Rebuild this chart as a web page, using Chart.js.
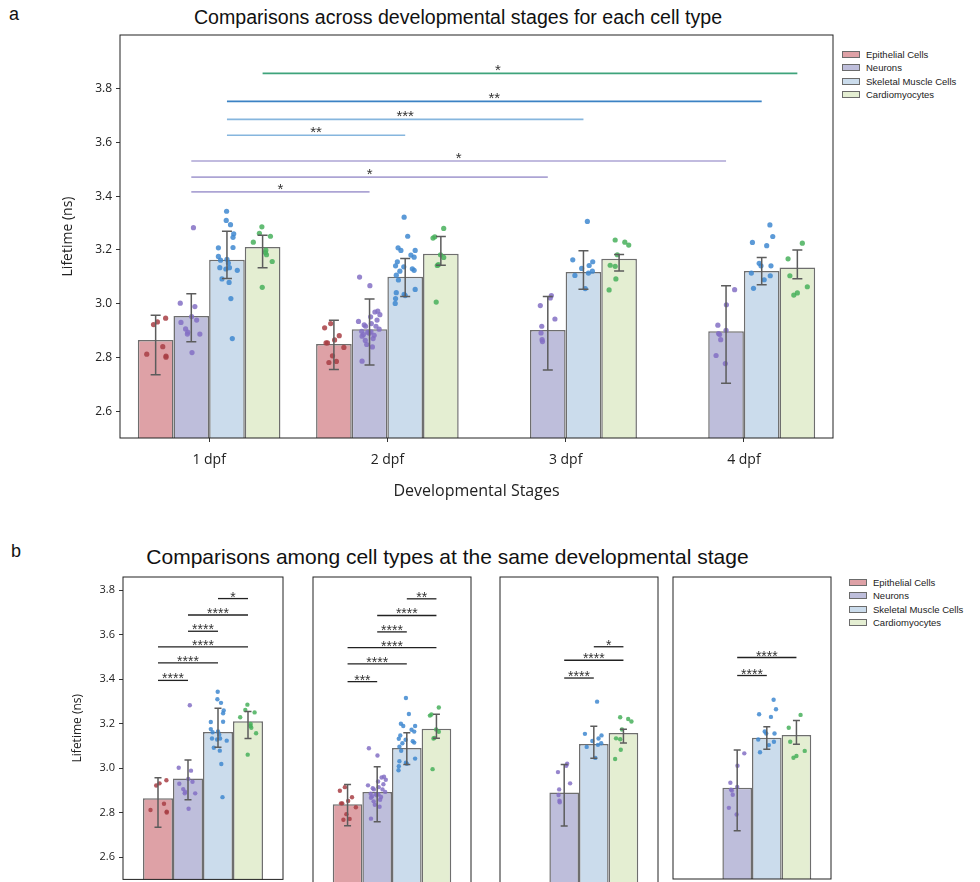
<!DOCTYPE html>
<html>
<head>
<meta charset="utf-8">
<script src="https://cdn.jsdelivr.net/npm/chart.js@4.4.1/dist/chart.umd.min.js"></script>
<style>
  html, body { margin: 0; padding: 0; background: #fff; overflow: hidden; }
  #page { position: relative; width: 980px; height: 882px; font-family: "Liberation Sans", Arial, sans-serif; color: #111; }
  .abs { position: absolute; }
  canvas { position: absolute; }
  .letter { font-size: 18px; }
  .title { text-align: center; white-space: nowrap; }
  .legend { font-size: 9.5px; color: #222; }
  .legend .row { display: flex; align-items: center; height: 13.3px; }
  .legend .sw { width: 16px; height: 5px; border: 1px solid #6b6b6b; margin-right: 6px; }
</style>
</head>
<body>
<div id="page">
  <div class="abs letter" style="left:9px; top:4px;">a</div>
  <div class="abs title" style="left:0; width:916px; top:6px; font-size:19.6px;">Comparisons across developmental stages for each cell type</div>
  <canvas id="chartA" width="840" height="520" style="left:0; top:0;"></canvas>
  <div id="legendA" class="abs legend" style="left:842px; top:48px;"></div>

  <div class="abs letter" style="left:11px; top:541px;">b</div>
  <div class="abs title" style="left:0; width:895px; top:545px; font-size:21px;">Comparisons among cell types at the same developmental stage</div>
  <canvas id="chartB1" width="240" height="330" style="left:50px; top:560px;"></canvas>
  <canvas id="chartB2" width="166" height="330" style="left:309px; top:560px;"></canvas>
  <canvas id="chartB3" width="166" height="330" style="left:496px; top:560px;"></canvas>
  <canvas id="chartB4" width="166" height="330" style="left:669px; top:560px;"></canvas>
  <div id="legendB" class="abs legend" style="left:849px; top:576px;"></div>
</div>

<script>
const stages = ['1 dpf', '2 dpf', '3 dpf', '4 dpf'];
const cellTypes = ['Epithelial Cells', 'Neurons', 'Skeletal Muscle Cells', 'Cardiomyocytes'];
const yTicks = [2.6, 2.8, 3.0, 3.2, 3.4, 3.6, 3.8];

// mean lifetime (ns) per stage, null = not measured
const meanEpithelial = [2.865, 2.850, null, null];
const meanNeurons = [2.954, 2.905, 2.902, 2.897];
const meanSkeletal = [3.163, 3.100, 3.118, 3.122];
const meanCardio = [3.211, 3.186, 3.167, 3.135];

// 95% confidence interval [low, high]
const ciEpithelial = [[2.735, 2.957], [2.755, 2.938], null, null];
const ciNeurons = [[2.858, 3.037], [2.772, 3.017], [2.753, 3.027], [2.704, 3.067]];
const ciSkeletal = [[3.094, 3.270], [3.027, 3.168], [3.054, 3.197], [3.070, 3.172]];
const ciCardio = [[3.134, 3.255], [3.143, 3.250], [3.122, 3.183], [3.093, 3.200]];

// single cell measurements, with strip jitter as a fraction of bar width
const epithelialValues = [
  [2.922, 2.932, 2.946, 2.812, 2.840, 2.805, 2.801],
  [2.910, 2.926, 2.881, 2.865, 2.854, 2.854, 2.837, 2.806, 2.781, 2.785],
  [], []
];
const epithelialJitter = [
  [-0.06, 0.05, 0.28, -0.25, 0.20, 0.29, 0.29],
  [-0.26, -0.09, 0.15, 0.02, -0.22, -0.18, 0.28, -0.04, -0.14, 0.07],
  [], []
];
const neuronValues = [
  [3.002, 3.283, 2.989, 2.930, 2.952, 2.939, 2.906, 2.894, 2.887, 2.887, 2.818],
  [3.099, 3.067, 2.969, 2.972, 2.959, 2.951, 2.939, 2.934, 2.926, 2.921, 2.916, 2.905, 2.897,
   2.894, 2.895, 2.882, 2.879, 2.870, 2.863, 2.848, 2.839, 2.786, 2.885, 2.890, 2.916],
  [3.030, 3.021, 2.993, 2.943, 2.916, 2.891, 2.866, 2.859],
  [3.052, 2.996, 2.920, 2.889, 2.885, 2.866, 2.901, 2.807, 2.777]
];
const neuronJitter = [
  [-0.31, 0.06, 0.10, -0.29, 0.01, 0.15, -0.16, -0.10, -0.11, 0.24, 0.02],
  [-0.28, 0.01, 0.15, 0.23, 0.29, 0.03, 0.21, -0.31, 0.05, -0.15, -0.11, 0.27, -0.22,
   -0.05, 0.04, 0.13, -0.21, 0.10, -0.12, -0.08, 0.08, -0.21, -0.17, -0.01, 0.18],
  [0.10, 0.07, -0.21, 0.20, -0.17, -0.19, -0.16, -0.15],
  [0.24, 0.01, -0.23, -0.21, -0.18, -0.15, 0.00, -0.28, -0.02]
];
const skeletalValues = [
  [3.344, 3.310, 3.294, 3.260, 3.247, 3.208, 3.209, 3.176, 3.162, 3.165, 3.151, 3.134, 3.129,
   3.134, 3.124, 3.092, 3.079, 3.019, 2.870],
  [3.322, 3.251, 3.208, 3.198, 3.198, 3.181, 3.173, 3.156, 3.141, 3.137, 3.130, 3.121, 3.124,
   3.106, 3.088, 3.041, 3.035, 3.030, 3.053, 3.019, 3.001],
  [3.306, 3.163, 3.156, 3.142, 3.131, 3.121, 3.114, 3.105, 3.056],
  [3.293, 3.250, 3.228, 3.216, 3.150, 3.141, 3.141, 3.114, 3.104, 3.089, 3.057]
];
const skeletalJitter = [
  [-0.01, -0.02, 0.10, 0.19, 0.17, -0.24, 0.17, -0.24, -0.18, 0.00, 0.04, -0.20, -0.03,
   0.07, 0.29, -0.14, 0.06, 0.11, 0.15],
  [-0.03, 0.07, -0.20, -0.12, 0.28, 0.16, 0.25, -0.22, -0.27, -0.04, 0.20, -0.15, 0.25,
   -0.25, -0.19, -0.25, -0.03, 0.00, 0.28, -0.27, -0.28],
  [0.11, -0.30, 0.26, 0.16, -0.05, 0.25, 0.14, -0.24, 0.05],
  [0.23, 0.31, -0.26, 0.14, -0.07, -0.02, 0.26, -0.29, 0.24, 0.07, -0.23]
];
const cardioValues = [
  [3.286, 3.262, 3.251, 3.229, 3.199, 3.182, 3.157, 3.061, 3.190],
  [3.280, 3.249, 3.244, 3.182, 3.172, 3.145, 3.142, 3.006],
  [3.237, 3.229, 3.218, 3.182, 3.143, 3.139, 3.092, 3.051],
  [3.225, 3.167, 3.104, 3.063, 3.040, 3.032]
];
const cardioJitter = [
  [-0.02, -0.09, 0.22, -0.26, 0.09, 0.11, 0.27, -0.01, 0.08],
  [0.08, -0.17, -0.22, -0.01, 0.08, -0.07, -0.10, -0.13],
  [-0.11, 0.16, 0.27, -0.05, -0.25, -0.11, -0.09, -0.28],
  [0.14, -0.26, -0.21, 0.28, 0.00, -0.10]
];

// across-stage tests: [cell type, from stage, to stage, bracket height, stars, star position]
const stageTests = [
  [3, 0, 3, 3.857, '*', 1.62],
  [2, 0, 3, 3.753, '**'],
  [2, 0, 2, 3.686, '***'],
  [2, 0, 1, 3.627, '**'],
  [1, 0, 3, 3.531, '*'],
  [1, 0, 2, 3.471, '*'],
  [1, 0, 1, 3.416, '*']
];
// within-stage tests: [cell type A, cell type B, bracket height, stars]
const cellTests1 = [[2, 3, 3.763, '*'], [1, 3, 3.689, '****'], [1, 2, 3.616, '****'],
                    [0, 3, 3.546, '****'], [0, 2, 3.474, '****'], [0, 1, 3.395, '****']];
const cellTests2 = [[2, 3, 3.763, '**'], [1, 3, 3.689, '****'], [1, 2, 3.616, '****'],
                    [0, 3, 3.546, '****'], [0, 2, 3.474, '****'], [0, 1, 3.395, '***']];
const cellTests3 = [[2, 3, 3.550, '*'], [1, 3, 3.490, '****'], [1, 2, 3.411, '****']];
const cellTests4 = [[1, 3, 3.483, '****'], [1, 2, 3.402, '****']];

const barColors = ['#dea1a6', '#bebedb', '#cbdcec', '#e4eed2'];
const dotColors = ['rgba(168,62,68,0.85)', 'rgba(132,112,196,0.85)', 'rgba(64,136,208,0.85)', 'rgba(72,176,92,0.85)'];
const stageLineColors = ['#3ea37b', '#3b82c4', '#86b6de', '#86b6de', '#aca4d4', '#aca4d4', '#aca4d4'];

const cells = [
  { mean: meanEpithelial, ci: ciEpithelial, values: epithelialValues, jitter: epithelialJitter },
  { mean: meanNeurons, ci: ciNeurons, values: neuronValues, jitter: neuronJitter },
  { mean: meanSkeletal, ci: ciSkeletal, values: skeletalValues, jitter: skeletalJitter },
  { mean: meanCardio, ci: ciCardio, values: cardioValues, jitter: cardioJitter }
];

// legends
['legendA', 'legendB'].forEach(id => {
  const box = document.getElementById(id);
  cellTypes.forEach((name, t) => {
    const row = document.createElement('div');
    row.className = 'row';
    row.innerHTML = `<span class="sw" style="background:${barColors[t]}"></span><span>${name}</span>`;
    box.appendChild(row);
  });
});

// bars + points for the given stages; bars sit at x = stage (or 0 in a single-stage panel)
function buildDatasets(stageList, groupWidth, single, dotRadius) {
  const barW = groupWidth / cellTypes.length;
  const bars = cells.map((c, t) => ({
    type: 'bar',
    label: cellTypes[t],
    data: stageList.map(s => ({ x: single ? 0 : s, y: c.mean[s] })),
    backgroundColor: barColors[t],
    borderColor: '#6e6e6e',
    borderWidth: 1.5,
    categoryPercentage: groupWidth,
    barPercentage: 1,
    order: 2
  }));
  const dots = cells.map((c, t) => {
    const pts = [];
    stageList.forEach(s => {
      const centre = (single ? 0 : s) + (t - 1.5) * barW;
      c.values[s].forEach((v, k) => pts.push({ x: centre + c.jitter[s][k] * barW, y: v }));
    });
    return {
      type: 'scatter',
      label: cellTypes[t] + ' cells',
      data: pts,
      backgroundColor: dotColors[t],
      borderWidth: 0,
      pointRadius: dotRadius,
      order: 1
    };
  });
  return bars.concat(dots);
}

// frame, error bars and significance brackets
function decorPlugin(spec) {
  return {
    id: 'decor',
    afterDatasetsDraw(chart) {
      const ctx = chart.ctx;
      const ys = chart.scales.y;
      const area = chart.chartArea;
      ctx.save();
      // error bars
      spec.stageList.forEach((s, i) => {
        cells.forEach((c, t) => {
          const ci = c.ci[s];
          if (!ci) return;
          const bx = chart.getDatasetMeta(t).data[i].x;
          const lo = ys.getPixelForValue(ci[0]);
          const hi = ys.getPixelForValue(ci[1]);
          ctx.strokeStyle = '#5c5c5c';
          ctx.lineWidth = 1.5;
          ctx.beginPath();
          ctx.moveTo(bx, lo); ctx.lineTo(bx, hi);
          ctx.moveTo(bx - spec.cap, lo); ctx.lineTo(bx + spec.cap, lo);
          ctx.moveTo(bx - spec.cap, hi); ctx.lineTo(bx + spec.cap, hi);
          ctx.stroke();
        });
      });
      // frame
      ctx.strokeStyle = '#222';
      ctx.lineWidth = 1;
      ctx.strokeRect(area.left, area.top, area.right - area.left, area.bottom - area.top);
      // brackets
      ctx.textAlign = 'center';
      ctx.textBaseline = 'alphabetic';
      ctx.font = spec.starFont;
      spec.brackets.forEach(b => {
        const x1 = b.x1(chart), x2 = b.x2(chart);
        const y = ys.getPixelForValue(b.h);
        ctx.strokeStyle = b.color;
        ctx.lineWidth = spec.lineWidth;
        ctx.beginPath();
        ctx.moveTo(x1, y); ctx.lineTo(x2, y);
        ctx.stroke();
        ctx.fillStyle = '#333';
        const tx = b.labelX !== undefined ? chart.scales.x.getPixelForValue(b.labelX) : (x1 + x2) / 2;
        ctx.fillText(b.label, tx, y + spec.starShift);
      });
      ctx.restore();
    }
  };
}

const barX = (t, i) => chart => chart.getDatasetMeta(t).data[i].x;

// panel a
const stageList = [0, 1, 2, 3];
new Chart(document.getElementById('chartA'), {
  type: 'bar',
  data: { datasets: buildDatasets(stageList, 0.8, false, 2.6) },
  options: {
    responsive: false,
    animation: false,
    layout: { padding: { top: 35, right: 7, left: 0, bottom: 0 } },
    plugins: { legend: { display: false }, tooltip: { enabled: false } },
    scales: {
      x: {
        type: 'linear', min: -0.5, max: 3.5, offset: false,
        afterBuildTicks: s => { s.ticks = stageList.map(v => ({ value: v })); },
        afterFit: s => { s.height = 82; },
        ticks: { callback: (v, i) => stages[i], font: { family: 'Open Sans', size: 14 }, color: '#222', padding: 10, autoSkip: false, maxRotation: 0 },
        grid: { drawOnChartArea: false, drawTicks: true, tickLength: 4, tickColor: '#333', offset: false },
        border: { display: false },
        title: { display: true, text: 'Developmental Stages', font: { family: 'Open Sans', size: 16 }, color: '#222', padding: { top: 0, bottom: 19 } }
      },
      y: {
        min: 2.5, max: 4.0,
        afterBuildTicks: s => { s.ticks = yTicks.map(v => ({ value: v })); },
        afterFit: s => { s.width = 120; },
        ticks: { callback: v => v.toFixed(1), font: { family: 'Open Sans', size: 12 }, color: '#222', padding: 4 },
        grid: { drawOnChartArea: false, drawTicks: true, tickLength: 4, tickColor: '#333' },
        border: { display: false },
        title: { display: true, text: 'Lifetime (ns)', font: { family: 'Open Sans', size: 14 }, color: '#222', padding: { top: 60, bottom: 0 } }
      }
    }
  },
  plugins: [decorPlugin({
    stageList: stageList,
    cap: 5,
    lineWidth: 1.6,
    starFont: '15px "Liberation Sans"',
    starShift: 2,
    brackets: stageTests.map((b, k) => ({
      x1: barX(b[0], b[1]), x2: barX(b[0], b[2]), h: b[3], label: b[4], labelX: b[5], color: stageLineColors[k]
    }))
  })]
});

// panel b, one chart per stage
function stagePanel(id, s, tests, showY, yMin, yMax, padBottom, padLeft, padRight) {
  const yAxis = {
    min: yMin, max: yMax, display: showY,
    afterBuildTicks: sc => { sc.ticks = yTicks.map(v => ({ value: v })); },
    ticks: { callback: v => v.toFixed(1), font: { family: 'Open Sans', size: 11 }, color: '#222', padding: 4 },
    grid: { drawOnChartArea: false, drawTicks: true, tickLength: 4, tickColor: '#333' },
    border: { display: false },
    title: { display: true, text: 'Lifetime (ns)', font: { family: 'Open Sans', size: 12 }, color: '#222', padding: { top: 20, bottom: 0 } }
  };
  if (showY) yAxis.afterFit = sc => { sc.width = 73; };
  new Chart(document.getElementById(id), {
    type: 'bar',
    data: { datasets: buildDatasets([s], 0.75, true, 2.2) },
    options: {
      responsive: false,
      animation: false,
      layout: { padding: { top: 17, right: padRight, left: padLeft, bottom: padBottom } },
      plugins: { legend: { display: false }, tooltip: { enabled: false } },
      scales: {
        x: {
          type: 'linear', min: -0.5, max: 0.5, offset: false, display: false,
          afterBuildTicks: sc => { sc.ticks = [{ value: 0 }]; }
        },
        y: yAxis
      }
    },
    plugins: [decorPlugin({
      stageList: [s],
      cap: 3.5,
      lineWidth: 1.3,
      starFont: '14px "Liberation Sans"',
      starShift: 3,
      brackets: tests.map(b => ({ x1: barX(b[0], 0), x2: barX(b[1], 0), h: b[2], label: b[3], color: '#222' }))
    })]
  });
}

stagePanel('chartB1', 0, cellTests1, true, 2.5, 3.86, 7, 0, 7);
stagePanel('chartB2', 1, cellTests2, false, 2.5, 3.86, 7, 3, 3);
stagePanel('chartB3', 2, cellTests3, false, 2.5, 3.86, 7, 3, 3);
stagePanel('chartB4', 3, cellTests4, false, 2.487, 3.845, 11, 3, 3);
</script>
</body>
</html>
